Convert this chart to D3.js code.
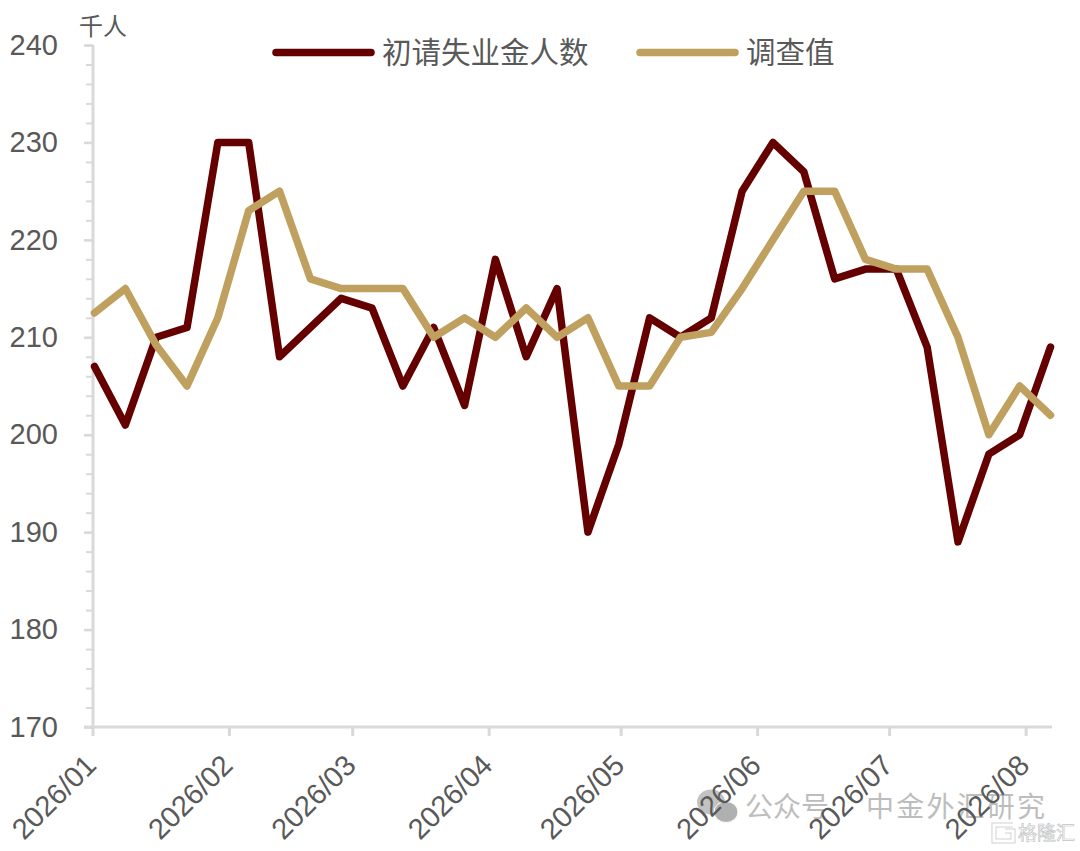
<!DOCTYPE html>
<html lang="zh">
<head>
<meta charset="utf-8">
<script src="https://cdnjs.cloudflare.com/ajax/libs/d3/7.9.0/d3.min.js"></script>
<style>
html,body{margin:0;padding:0;background:#fff}
svg{display:block}
text{font-family:"Liberation Sans","Noto Sans CJK SC",sans-serif;fill:#595959}
.cjk{font-family:"Noto Sans CJK SC","Liberation Sans",sans-serif}
</style>
</head>
<body>
<svg id="c" width="1080" height="851"></svg>
<script>
const claims = [207,201,210,211,230,230,208,211,214,213,205,211,203,218,208,215,190,199,212,210,212,225,230,227,216,217,217,209,189,198,200,209];
const survey = [212.5,215,209.2,205,212,223,225,216,215,215,215,210,212,210,213,210,212,205,205,210,210.5,215,220,225,225,218,217,217,210,200,205,202];
const weeks = claims.map((_, i) => i);
const monthLabels = ["2026/01","2026/02","2026/03","2026/04","2026/05","2026/06","2026/07","2026/08"];
const yTicks = [170,180,190,200,210,220,230,240];
const yMinor = d3.range(170,241,2);
const seriesNames = ["初请失业金人数","调查值"];
const unitLabel = "千人";
const watermark = ["公众号","中金外汇研究"];
const logoLabel = "格隆汇";

const AXIS="#D9D9D9", DARK="#640000", TAN="#BFA05E";
const svg = d3.select("#c");
const parse = d3.timeParse("%Y/%m");
const monthDates = monthLabels.map(parse);

const y = d3.scaleLinear().domain([170,240]).range([727,45]);
const xAxisScale = d3.scaleTime().domain([new Date(2026,0,1), new Date(2026,7,7)]).range([92.5,1052]);
const xWeek = d3.scalePoint().domain(weeks).range([94.5,1050.5]);

// watermark first so tick labels sit on top of it
const wm = svg.append("g");
wm.append("ellipse").attr("cx",711).attr("cy",802).attr("rx",14).attr("ry",12.5).attr("fill","#c2c2c2");
wm.append("ellipse").attr("cx",726).attr("cy",812).attr("rx",12).attr("ry",10.5).attr("fill","#b0b0b0").attr("stroke","#fff").attr("stroke-width",1);
wm.append("text").attr("class","cjk").attr("x",745).attr("y",817).attr("font-size",28).style("fill","#bdbdbd").text(watermark[0]);
wm.append("text").attr("class","cjk").attr("x",866).attr("y",817).attr("font-size",28).attr("letter-spacing",2.2).style("fill","#bdbdbd").text(watermark[1]);

// y axis
const yAxisMinor = d3.axisLeft(y).tickValues(yMinor).tickSize(7).tickFormat("");
const gMinor = svg.append("g").attr("transform","translate(93,0)").call(yAxisMinor);
gMinor.selectAll("line").attr("stroke",AXIS).attr("stroke-width",2);
gMinor.select(".domain").remove();

const yAxis = d3.axisLeft(y).tickValues(yTicks).tickSize(9).tickFormat(d3.format("d"));
const gy = svg.append("g").attr("transform","translate(93,0)").call(yAxis);
gy.select(".domain").attr("stroke",AXIS).attr("stroke-width",3).attr("d","M0,45V727");
gy.selectAll("line").attr("stroke",AXIS).attr("stroke-width",2.5);
gy.selectAll("text").attr("font-size",29).attr("x",-35).attr("dy","0.32em").attr("font-family",null).style("fill","#595959");

// x axis
const xAxis = d3.axisBottom(xAxisScale).tickValues(monthDates).tickSize(9).tickFormat(d3.timeFormat("%Y/%m"));
const gx = svg.append("g").attr("transform","translate(0,727)").call(xAxis);
gx.select(".domain").attr("stroke",AXIS).attr("stroke-width",3).attr("d","M84,0H1052");
gx.selectAll("line").attr("stroke",AXIS).attr("stroke-width",3);
gx.selectAll("text").attr("font-size",29).attr("text-anchor","end").attr("x",0).attr("y",0).attr("dy",0)
  .attr("transform","translate(5,40) rotate(-45)").attr("font-family",null).style("fill","#595959");

// lines
const line = d3.line().x((d,i)=>xWeek(i)).y(d=>y(d)).curve(d3.curveLinear);
[[claims,DARK],[survey,TAN]].forEach(([vals,col])=>{
  svg.append("path").datum(vals).attr("d",line).attr("fill","none").attr("stroke",col)
    .attr("stroke-width",7.5).attr("stroke-linejoin","round").attr("stroke-linecap","round");
});

// legend
const legend = [{n:seriesNames[0],c:DARK,x0:276,x1:371,tx:382},{n:seriesNames[1],c:TAN,x0:640,x1:735,tx:746}];
legend.forEach(l=>{
  svg.append("line").attr("x1",l.x0).attr("x2",l.x1).attr("y1",52.5).attr("y2",52.5)
    .attr("stroke",l.c).attr("stroke-width",7.5).attr("stroke-linecap","round");
  svg.append("text").attr("class","cjk").attr("x",l.tx).attr("y",63).attr("font-size",29.5).text(l.n);
});
svg.append("text").attr("class","cjk").attr("x",79).attr("y",35).attr("font-size",24).text(unitLabel);

// logo mark
const logo = svg.append("g");
const mark = "M1013,825H994V841H1013V831H1005";
logo.append("path").attr("d",mark).attr("fill","none").attr("stroke","#d0d0d0").attr("stroke-width",5);
logo.append("path").attr("d",mark).attr("fill","none").attr("stroke","#fff").attr("stroke-width",3);
logo.append("text").attr("class","cjk").attr("x",1018).attr("y",840).attr("font-size",19).style("fill","#fff").style("stroke","#c4c4c4").style("stroke-width",0.7).text(logoLabel);
</script>
</body>
</html>
